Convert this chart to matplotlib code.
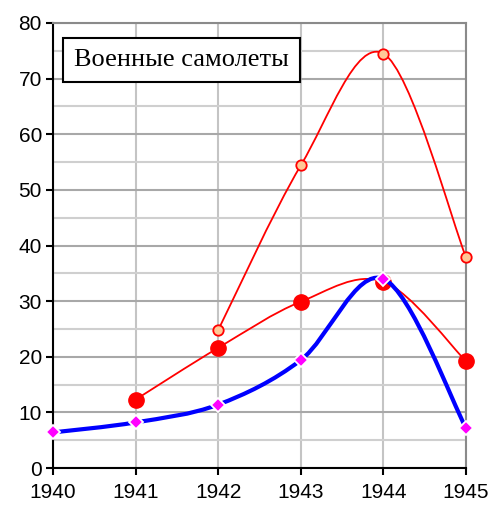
import matplotlib
matplotlib.use("Agg")
import matplotlib.pyplot as plt
from matplotlib.path import Path
from matplotlib.patches import PathPatch
from matplotlib.ticker import MultipleLocator

# ── данные ───────────────────────────────────────────────
years_a = [1942, 1943, 1944, 1945]
values_a = [24.8, 54.4, 74.5, 37.9]          # красная линия, светлые кружки

years_b = [1941, 1942, 1943, 1944, 1945]
values_b = [12.3, 21.6, 29.9, 33.5, 19.2]    # красная линия, крупные кружки

years_c = [1940, 1941, 1942, 1943, 1944, 1945]
values_c = [6.4, 8.2, 11.4, 19.4, 34.0, 7.2]  # синяя линия, ромбы

year_ticks = [1940, 1941, 1942, 1943, 1944, 1945]
title = "Военные самолеты"


def smooth_path(xs, ys):
    """Сглаженная линия в стиле Excel (кубические Безье)."""
    pts = list(zip(xs, ys))
    verts = [pts[0]]
    codes = [Path.MOVETO]
    n = len(pts)
    for i in range(n - 1):
        p0 = pts[i - 1] if i > 0 else pts[i]
        p1 = pts[i]
        p2 = pts[i + 1]
        p3 = pts[i + 2] if i + 2 < n else pts[i + 1]
        c1 = (p1[0] + (p2[0] - p0[0]) / 6, p1[1] + (p2[1] - p0[1]) / 6)
        c2 = (p2[0] - (p3[0] - p1[0]) / 6, p2[1] - (p3[1] - p1[1]) / 6)
        verts += [c1, c2, p2]
        codes += [Path.CURVE4] * 3
    return Path(verts, codes)


fig = plt.figure(figsize=(4.91, 5.08), dpi=100, facecolor="white")
ax = fig.add_axes([53 / 491, 1 - 468 / 508, 413 / 491, 445 / 508])

ax.set_xlim(1940, 1945)
ax.set_ylim(0, 80)
ax.yaxis.set_major_locator(MultipleLocator(10))
ax.yaxis.set_minor_locator(MultipleLocator(5))
ax.set_xticks(year_ticks)
ax.set_xticklabels([str(y) for y in year_ticks])

ax.grid(axis="y", which="minor", color="#cfcfcf", linewidth=1.5)
ax.grid(axis="y", which="major", color="#a8a8a8", linewidth=1.5)
ax.grid(axis="x", which="major", color="#c4c4c4", linewidth=1.5)
ax.set_axisbelow(True)

for side in ("top", "right"):
    ax.spines[side].set_color("#8a8a8a")
    ax.spines[side].set_linewidth(1.5)
for side in ("left", "bottom"):
    ax.spines[side].set_color("black")
    ax.spines[side].set_linewidth(1.5)

ax.tick_params(axis="both", which="major", direction="out", length=5,
               width=1.5, labelsize=15, colors="black")
ax.tick_params(axis="y", which="minor", length=0)
ax.tick_params(axis="x", pad=6)
ax.tick_params(axis="y", pad=3)
for lab in ax.get_xticklabels() + ax.get_yticklabels():
    lab.set_family(["Liberation Sans", "DejaVu Sans"])

# красная линия (крупные кружки)
ax.add_patch(PathPatch(smooth_path(years_b, values_b), fill=False,
                       edgecolor="red", linewidth=1.3, zorder=3, clip_on=False))
ax.plot(years_b, values_b, linestyle="none", marker="o", markersize=11,
        color="red", zorder=4, clip_on=False)

# красная линия (светлые кружки)
ax.add_patch(PathPatch(smooth_path(years_a, values_a), fill=False,
                       edgecolor="red", linewidth=1.3, zorder=3, clip_on=False))
ax.plot(years_a, values_a, linestyle="none", marker="o", markersize=7.5,
        markerfacecolor="#ffc896", markeredgecolor="red", markeredgewidth=1.3,
        zorder=4, clip_on=False)

# синяя линия
ax.add_patch(PathPatch(smooth_path(years_c, values_c), fill=False,
                       edgecolor="#0000ff", linewidth=3, zorder=5, clip_on=False))
ax.plot(years_c, values_c, linestyle="none", marker="D", markersize=7.5,
        markerfacecolor="#ff00ff", markeredgecolor="white", markeredgewidth=1.3,
        zorder=6, clip_on=False)

ax.text(0.05, 0.917, title, transform=ax.transAxes, ha="left", va="center",
        fontsize=19, family=["Liberation Serif", "DejaVu Serif"], zorder=7,
        bbox=dict(boxstyle="square,pad=0.42", facecolor="white",
                  edgecolor="black", linewidth=1.5))

fig.savefig("out.png", dpi=100, facecolor="white")
